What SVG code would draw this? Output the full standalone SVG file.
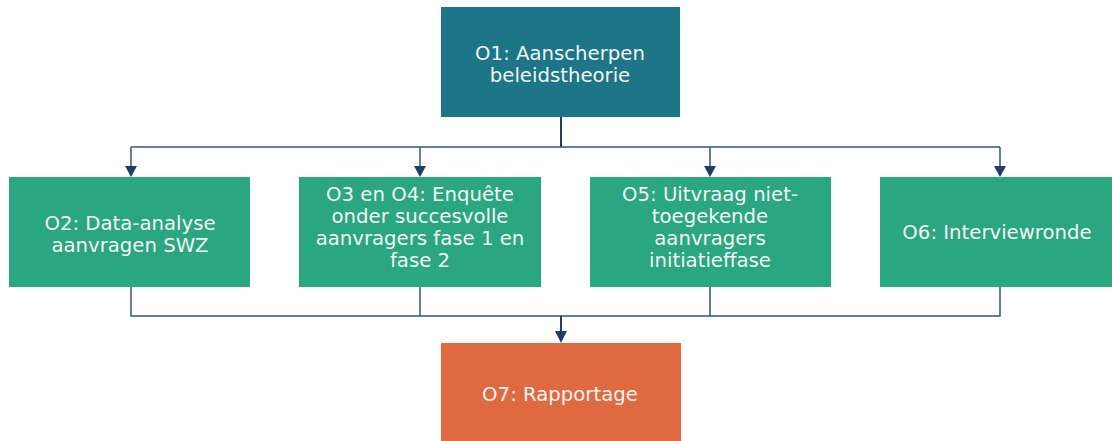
<svg xmlns="http://www.w3.org/2000/svg" width="1112" height="441" viewBox="0 0 1112 441">
<defs>
<style>
.t{font-family:"DejaVu Sans","Verdana",sans-serif;font-size:19.7px;fill:#F4F4F4;text-anchor:middle}
.g{fill:#2AA680}
.ah{fill:#1F3D6A}
.ln{fill:none;stroke:#1F3D6A;stroke-width:2}
.ln2{fill:none;stroke:#2F5485;stroke-width:1.5}
</style>
</defs>
<rect width="1112" height="441" fill="#FFFFFF"/>
<g id="connectors">
<path class="ln" d="M561,117 V147"/>
<path class="ln2" d="M131,147 H1000"/>
<path class="ln2" d="M131,147 V166"/>
<path class="ln2" d="M420,147 V166"/>
<path class="ln2" d="M710,147 V166"/>
<path class="ln2" d="M1000,147 V166"/>
<path class="ah" d="M125,166 L137,166 L131,177 Z M414,166 L426,166 L420,177 Z M704,166 L716,166 L710,177 Z M994,166 L1006,166 L1000,177 Z"/>
<path class="ln2" d="M131,287 V316 H1000 V287"/>
<path class="ln2" d="M420,287 V316"/>
<path class="ln2" d="M710,287 V316"/>
<path class="ln" d="M561,316 V332"/>
<path class="ah" d="M555,331 L567,331 L561,343 Z"/>
</g>
<g id="O1">
<rect x="441" y="7" width="239" height="110" fill="#1C7687"/>
<text class="t" x="560" y="60">O1: Aanscherpen</text>
<text class="t" x="560" y="82">beleidstheorie</text>
</g>
<g id="O2">
<rect class="g" x="9" y="177" width="241" height="110"/>
<text class="t" x="130" y="230">O2: Data-analyse</text>
<text class="t" x="130" y="252">aanvragen SWZ</text>
</g>
<g id="O3O4">
<rect class="g" x="299" y="177" width="242" height="110"/>
<text class="t" x="420" y="201">O3 en O4: Enquête</text>
<text class="t" x="420" y="223">onder succesvolle</text>
<text class="t" x="420" y="245">aanvragers fase 1 en</text>
<text class="t" x="420" y="267">fase 2</text>
</g>
<g id="O5">
<rect class="g" x="590" y="177" width="241" height="110"/>
<text class="t" x="710" y="201">O5: Uitvraag niet-</text>
<text class="t" x="710" y="223">toegekende</text>
<text class="t" x="710" y="245">aanvragers</text>
<text class="t" x="710" y="267">initiatieffase</text>
</g>
<g id="O6">
<rect class="g" x="880" y="177" width="232" height="110"/>
<text class="t" x="997" y="239">O6: Interviewronde</text>
</g>
<g id="O7">
<rect x="441" y="343" width="240" height="98" fill="#DF6A41"/>
<text class="t" x="560" y="401">O7: Rapportage</text>
</g>
</svg>
